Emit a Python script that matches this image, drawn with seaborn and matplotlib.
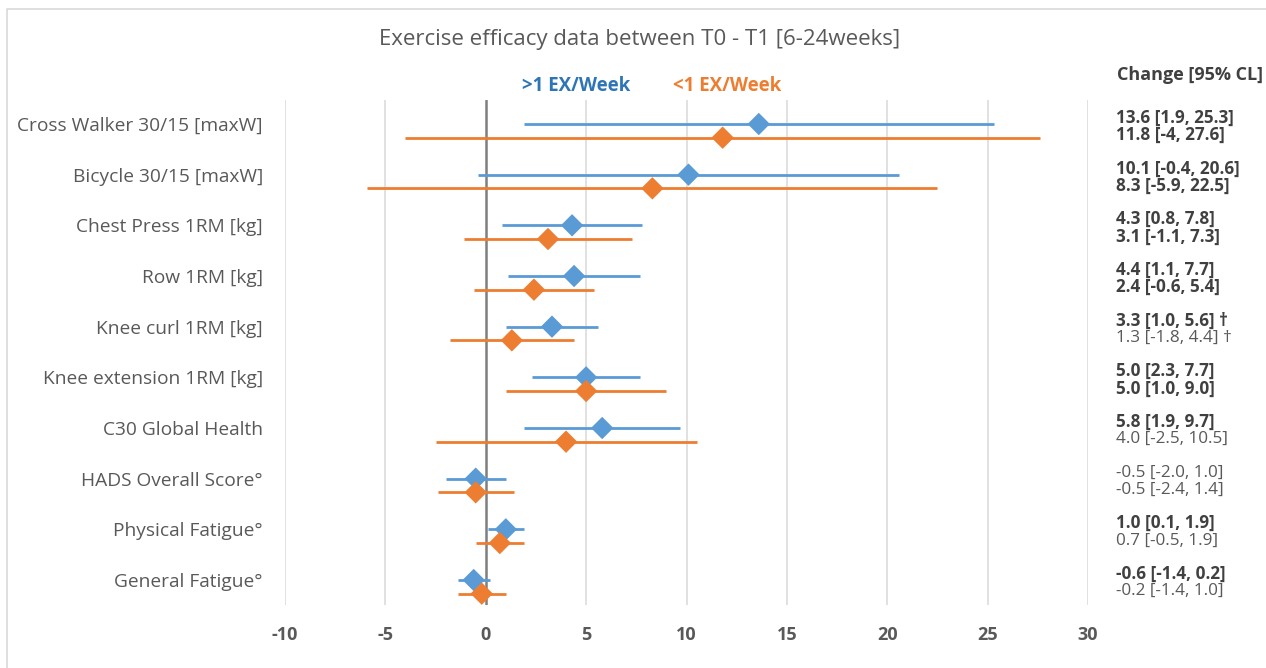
import numpy as np
import pandas as pd
import matplotlib
matplotlib.use("Agg")
import matplotlib.pyplot as plt
import matplotlib.transforms as mtrans
import seaborn as sns
from matplotlib.lines import Line2D

### Datos
categorias = ["Cross Walker 30/15 [maxW]", "Bicycle 30/15 [maxW]", "Chest Press 1RM [kg]",
              "Row 1RM [kg]", "Knee curl 1RM [kg]", "Knee extension 1RM [kg]",
              "C30 Global Health", "HADS Overall Score°", "Physical Fatigue°",
              "General Fatigue°"]
media_mas = [13.6, 10.1, 4.3, 4.4, 3.3, 5.0, 5.8, -0.5, 1.0, -0.6]
bajo_mas = [1.9, -0.4, 0.8, 1.1, 1.0, 2.3, 1.9, -2.0, 0.1, -1.4]
alto_mas = [25.3, 20.6, 7.8, 7.7, 5.6, 7.7, 9.7, 1.0, 1.9, 0.2]
media_menos = [11.8, 8.3, 3.1, 2.4, 1.3, 5.0, 4.0, -0.5, 0.7, -0.2]
bajo_menos = [-4, -5.9, -1.1, -0.6, -1.8, 1.0, -2.5, -2.4, -0.5, -1.4]
alto_menos = [27.6, 22.5, 7.3, 5.4, 4.4, 9.0, 10.5, 1.4, 1.9, 1.0]
texto_mas = ["13.6 [1.9, 25.3]", "10.1 [-0.4, 20.6]", "4.3 [0.8, 7.8]", "4.4 [1.1, 7.7]",
             "3.3 [1.0, 5.6] †", "5.0 [2.3, 7.7]", "5.8 [1.9, 9.7]", "-0.5 [-2.0, 1.0]",
             "1.0 [0.1, 1.9]", "-0.6 [-1.4, 0.2]"]
texto_menos = ["11.8 [-4, 27.6]", "8.3 [-5.9, 22.5]", "3.1 [-1.1, 7.3]", "2.4 [-0.6, 5.4]",
               "1.3 [-1.8, 4.4] †", "5.0 [1.0, 9.0]", "4.0 [-2.5, 10.5]", "-0.5 [-2.4, 1.4]",
               "0.7 [-0.5, 1.9]", "-0.2 [-1.4, 1.0]"]
negrita_mas = [True, True, True, True, True, True, True, False, True, True]
negrita_menos = [True, True, True, True, False, True, False, False, False, False]
ticks_x = [-10, -5, 0, 5, 10, 15, 20, 25, 30]

AZUL = "#5B9BD5"
NARANJA = "#ED7D31"
GRIS = "#595959"

pos = np.arange(len(categorias))
desplaz = 0.27

df = pd.DataFrame({
    "y": np.concatenate([pos, pos + desplaz]),
    "media": media_mas + media_menos,
    "bajo": bajo_mas + bajo_menos,
    "alto": alto_mas + alto_menos,
    "grupo": [">1 EX/Week"] * len(pos) + ["<1 EX/Week"] * len(pos),
})

sns.set_theme(style="white")
plt.rcParams['font.family'] = ['Open Sans', 'DejaVu Sans']

fig = plt.figure(figsize=(12.66, 6.68), dpi=100)
ax = fig.add_axes([285 / 1266, 1 - 605 / 668, (1088 - 285) / 1266, (605 - 100) / 668])

# rejilla vertical
for t in ticks_x:
    if t == 0:
        ax.axvline(t, color="#7F7F7F", lw=1.8, zorder=1)
    else:
        ax.axvline(t, color="#D9D9D9", lw=1.1, zorder=0)

colores = {">1 EX/Week": AZUL, "<1 EX/Week": NARANJA}
for g, sub in df.groupby("grupo"):
    ax.hlines(sub["y"], sub["bajo"], sub["alto"], color=colores[g], lw=2.0, zorder=2)
sns.scatterplot(data=df, x="media", y="y", hue="grupo", palette=colores, marker="D",
                s=130, linewidth=0, legend=False, ax=ax, zorder=3)

ax.set_xlim(-10, 30)
ax.set_ylim(9 + 25 / 50.67, -24 / 50.67)
ax.set_xticks(ticks_x)
ax.set_xticklabels([str(t) for t in ticks_x], fontsize=13, fontweight="bold", color=GRIS)
ax.set_yticks(pos)
ax.set_yticklabels(categorias, fontsize=13.8, color=GRIS)
ax.tick_params(axis="y", length=0, pad=16)
ax.tick_params(axis="x", length=0, pad=15)
ax.set_xlabel("")
ax.set_ylabel("")
for s in ax.spines.values():
    s.set_visible(False)

# texto a la derecha
trans = mtrans.blended_transform_factory(fig.transFigure, ax.transData)
x_txt = 1116 / 1266
for i in range(len(pos)):
    ax.text(x_txt, pos[i] - 0.12, texto_mas[i], transform=trans, fontsize=12.3,
            fontweight="bold" if negrita_mas[i] else "normal",
            color="#404040" if negrita_mas[i] else GRIS, va="center", ha="left")
    ax.text(x_txt, pos[i] + 0.22, texto_menos[i], transform=trans, fontsize=12.3,
            fontweight="bold" if negrita_menos[i] else "normal",
            color="#404040" if negrita_menos[i] else GRIS, va="center", ha="left")

fig.text(640 / 1266, 1 - 40 / 668, "Exercise efficacy data between T0 - T1 [6-24weeks]",
         fontsize=16, color=GRIS, ha="center", va="center")
fig.text(576 / 1266, 1 - 86 / 668, ">1 EX/Week", fontsize=13.5, fontweight="bold",
         color="#2E75B6", ha="center", va="center")
fig.text(727 / 1266, 1 - 86 / 668, "<1 EX/Week", fontsize=13.5, fontweight="bold",
         color=NARANJA, ha="center", va="center")
fig.text(1190 / 1266, 1 - 75 / 668, "Change [95% CL]", fontsize=13, fontweight="bold",
         color="#404040", ha="center", va="center")

# marco del grafico (solo arriba e izquierda se ven)
fig.lines.append(Line2D([7 / 1266, 7 / 1266, 1], [0, 1 - 9 / 668, 1 - 9 / 668],
                        transform=fig.transFigure, color="#D9D9D9", lw=1.2))

fig.savefig("out.png", dpi=100)
